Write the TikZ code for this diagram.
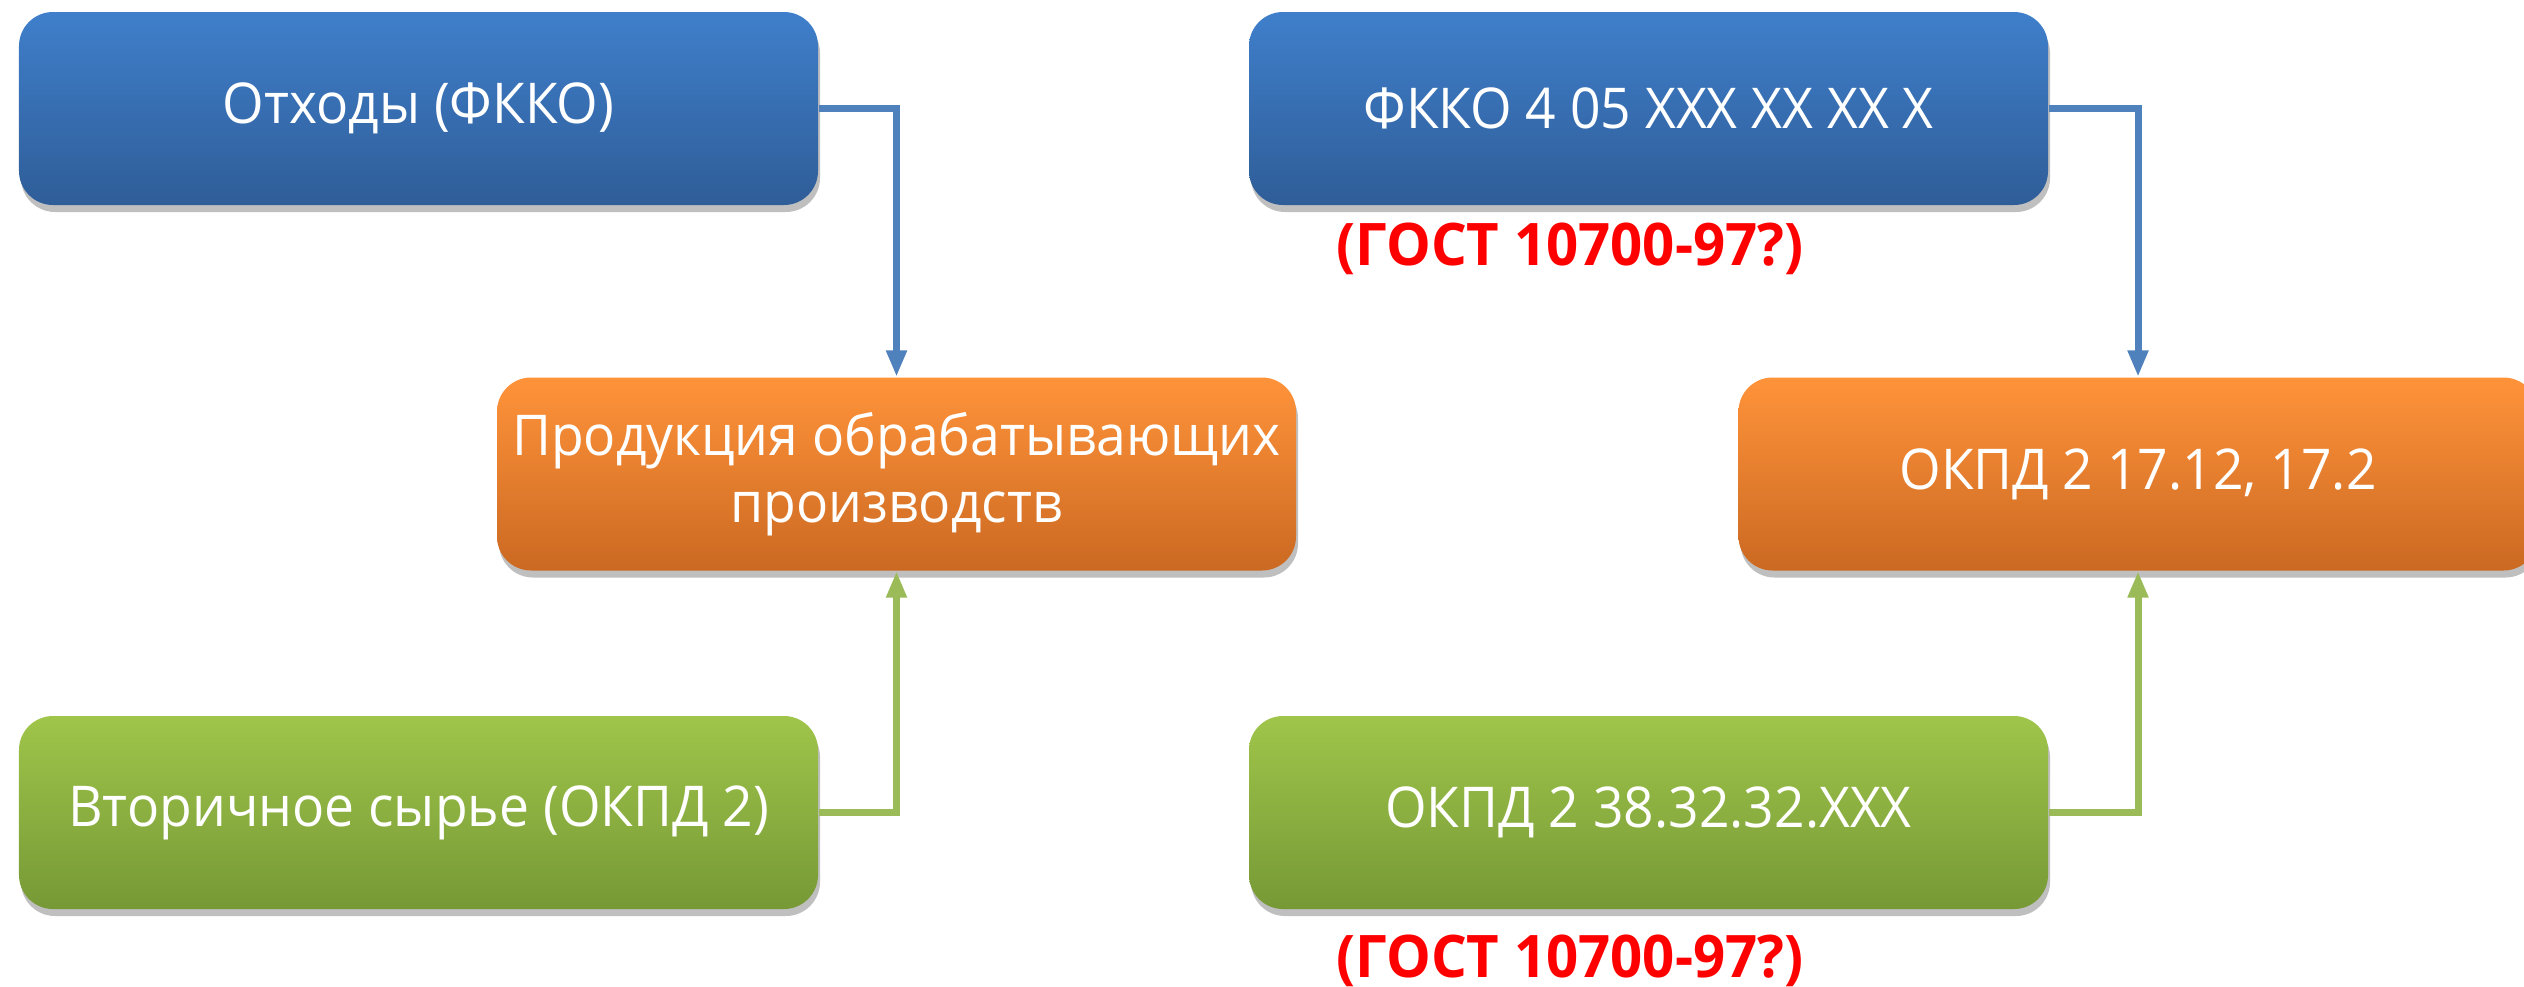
\documentclass[tikz,border=0pt]{standalone}
\usepackage{fontspec}
\setmainfont{Open Sans}
\usetikzlibrary{arrows.meta,shadows}
\definecolor{bluetop}{RGB}{63,127,203}
\definecolor{bluebot}{RGB}{47,93,152}
\definecolor{orangetop}{RGB}{255,147,58}
\definecolor{orangebot}{RGB}{203,105,34}
\definecolor{greentop}{RGB}{160,197,74}
\definecolor{greenbot}{RGB}{118,153,54}
\definecolor{linkblue}{RGB}{79,129,189}
\definecolor{linkgreen}{RGB}{155,187,89}
\newcommand\narrowtxt[1]{\scalebox{0.95}[1.0]{#1}}
\newcommand\narrownote[1]{\scalebox{0.96}[1.0]{#1}}
\begin{document}
\begin{tikzpicture}[
  box/.style={rounded corners=0.34cm, minimum width=7.99cm, minimum height=1.93cm,
    inner sep=0pt, align=center, text=white,
    font=\fontsize{16}{19}\selectfont,
    drop shadow={shadow xshift=0.02cm, shadow yshift=-0.07cm, opacity=0.25, fill=black}},
  bluebox/.style={box, top color=bluetop, bottom color=bluebot},
  orangebox/.style={box, top color=orangetop, bottom color=orangebot},
  greenbox/.style={box, top color=greentop, bottom color=greenbot},
  link/.style={line width=2pt, -{Triangle[length=7.5pt,width=5.5pt]}},
  note/.style={anchor=base, text=red, inner sep=0pt, font=\fontsize{16.7}{20}\bfseries\selectfont}
]
\useasboundingbox (0,0) rectangle (25.24,9.86);
\clip (0,0) rectangle (25.24,9.86);
\fill[white] (0,0) rectangle (25.24,9.86);

\node[bluebox]   (A)  at (4.185,8.775) {\narrowtxt{Отходы (ФККО)}};
\node[orangebox] (O1) at (8.965,5.12)  {\narrowtxt{Продукция обрабатывающих}\\\narrowtxt{производств}};
\node[greenbox]  (G1) at (4.185,1.735) {\narrowtxt{Вторичное сырье (ОКПД 2)}};

\node[bluebox]   (B)  at (16.485,8.775) {\narrowtxt{ФККО 4 05 XXX XX XX X}};
\node[orangebox] (O2) at (21.38,5.12)   {\narrowtxt{ОКПД 2 17.12, 17.2}};
\node[greenbox]  (G2) at (16.485,1.735) {\narrowtxt{ОКПД 2 38.32.32.XXX}};

\node[note] (N1) at (15.70,7.21) {\narrownote{(ГОСТ 10700-97?)}};
\node[note] (N2) at (15.70,0.09) {\narrownote{(ГОСТ 10700-97?)}};

\draw[link, linkblue]  (A.east)  -| (O1.north);
\draw[link, linkgreen] (G1.east) -| (O1.south);
\draw[link, linkblue]  (B.east)  -| (O2.north);
\draw[link, linkgreen] (G2.east) -| (O2.south);
\end{tikzpicture}
\end{document}
